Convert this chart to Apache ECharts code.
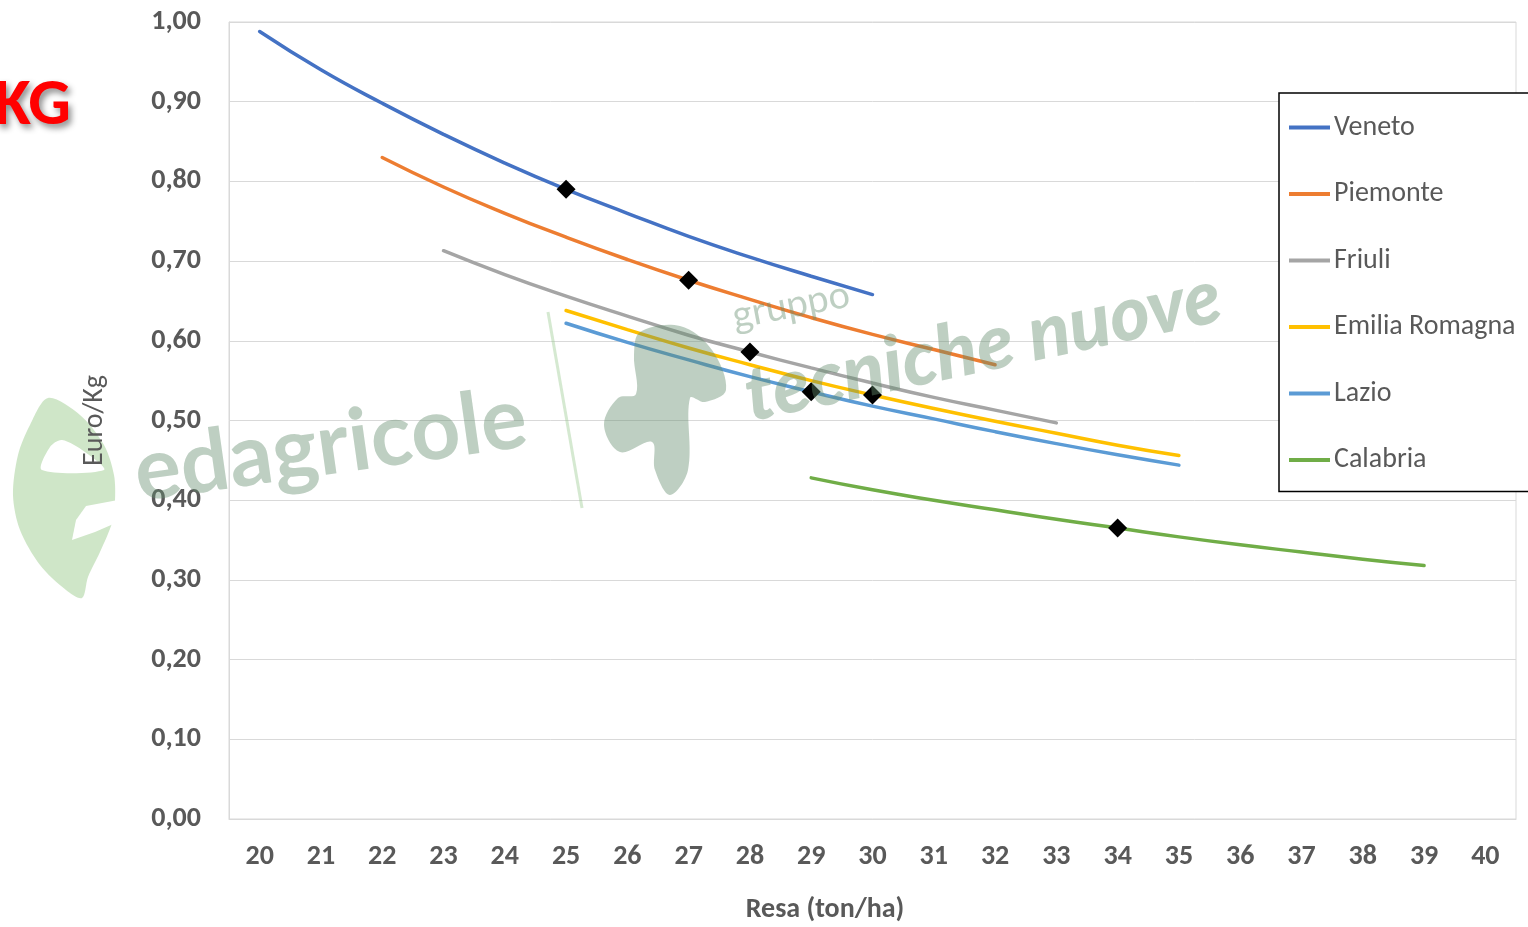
<!DOCTYPE html>
<html>
<head>
<meta charset="utf-8">
<script src="https://cdn.jsdelivr.net/npm/echarts@6/dist/echarts.min.js"></script>
<style>
  html, body { margin: 0; padding: 0; background: #fff; }
  #chart { width: 1528px; height: 927px; }
</style>
</head>
<body>
<div id="chart"></div>
<script>
// Resa (ton/ha) on the x axis
const yields = [20, 21, 22, 23, 24, 25, 26, 27, 28, 29, 30, 31, 32, 33, 34, 35, 36, 37, 38, 39, 40];

// Regions, their colours, first yield of each curve and the yield marked with a diamond
const regions = ['Veneto', 'Piemonte', 'Friuli', 'Emilia Romagna', 'Lazio', 'Calabria'];
const regionColors = ['#4472C4', '#ED7D31', '#A5A5A5', '#FFC000', '#5B9BD5', '#70AD47'];
const startYield = [20, 22, 23, 25, 25, 29];
const markedYield = [25, 27, 28, 30, 29, 34];

// Euro/Kg for each region, one value per ton/ha starting at startYield
const veneto   = [0.988, 0.940, 0.898, 0.859, 0.823, 0.790, 0.760, 0.731, 0.705, 0.681, 0.658];
const piemonte = [0.830, 0.793, 0.760, 0.730, 0.702, 0.676, 0.652, 0.629, 0.608, 0.589, 0.570];
const friuli   = [0.713, 0.683, 0.656, 0.631, 0.607, 0.586, 0.566, 0.547, 0.529, 0.513, 0.497];
const emilia   = [0.638, 0.614, 0.591, 0.570, 0.550, 0.532, 0.515, 0.499, 0.484, 0.469, 0.456];
const lazio    = [0.622, 0.598, 0.576, 0.555, 0.536, 0.518, 0.502, 0.486, 0.471, 0.457, 0.444];
const calabria = [0.428, 0.413, 0.400, 0.388, 0.376, 0.365, 0.354, 0.344, 0.335, 0.326, 0.318];
const regionValues = [veneto, piemonte, friuli, emilia, lazio, calabria];

const labelFont = 'Carlito, Lato, "Open Sans", sans-serif';
const grey = '#595959';
const markFill = 'rgba(100,140,110,0.42)';
const leafFill = 'rgba(140,195,125,0.42)';

function buildData(i) {
  return yields.map(function (y) {
    const k = y - startYield[i];
    if (k < 0 || k >= regionValues[i].length) return '-';
    const v = regionValues[i][k];
    if (y === markedYield[i]) {
      return { value: v, symbol: 'diamond', symbolSize: 19, itemStyle: { color: '#000' } };
    }
    return { value: v, symbol: 'none' };
  });
}

const series = regions.map(function (name, i) {
  return {
    name: name,
    type: 'line',
    smooth: true,
    showSymbol: true,
    symbol: 'none',
    connectNulls: false,
    color: regionColors[i],
    lineStyle: { width: 3.5, color: regionColors[i], cap: 'round' },
    data: buildData(i)
  };
});

const chart = echarts.init(document.getElementById('chart'));
chart.setOption({
  animation: false,
  backgroundColor: '#fff',
  grid: {
    left: 229, right: 12, top: 22, bottom: 108,
    show: true, borderColor: '#D9D9D9', borderWidth: 1
  },
  xAxis: {
    type: 'category',
    data: yields.map(String),
    boundaryGap: true,
    axisLine: { show: true, lineStyle: { color: '#D9D9D9', width: 1 } },
    axisTick: { show: false },
    splitLine: { show: false },
    axisLabel: {
      color: grey, fontFamily: labelFont, fontWeight: 'bold', fontSize: 28, margin: 24
    }
  },
  yAxis: {
    type: 'value',
    min: 0, max: 1, interval: 0.1,
    name: 'Euro/Kg',
    nameLocation: 'middle',
    nameRotate: 90,
    nameGap: 120,
    nameTextStyle: { color: grey, fontFamily: labelFont, fontSize: 28 },
    axisLine: { show: true, lineStyle: { color: '#D9D9D9', width: 1 } },
    axisTick: { show: false },
    splitLine: { show: true, lineStyle: { color: '#D9D9D9', width: 1 } },
    axisLabel: {
      color: grey, fontFamily: labelFont, fontWeight: 'bold', fontSize: 28, margin: 28,
      formatter: function (v) { return v.toFixed(2).replace('.', ','); }
    }
  },
  legend: {
    orient: 'vertical',
    left: 1279, top: 93,
    padding: [20.5, 30, 17.5, 10],
    borderColor: '#000', borderWidth: 1.5,
    backgroundColor: '#fff',
    itemWidth: 41, itemHeight: 4, itemGap: 38.5,
    icon: 'rect',
    textStyle: { color: grey, fontFamily: labelFont, fontSize: 28, lineHeight: 28, padding: [0, 0, 0, -1] },
    data: regions
  },
  graphic: [
    // leaf-shaped "e" emblem behind the y axis title
    {
      type: 'polygon', z: -5,
      shape: {
        smooth: 0.3,
        points: [[48, 398], [80, 415], [104, 445], [114, 475], [115, 502], [112, 523], [100, 552],
                 [88, 577], [82, 598], [66, 590], [40, 565], [20, 530], [13, 495], [18, 455], [30, 425]]
      },
      style: { fill: leafFill }
    },
    {
      type: 'polygon', z: -4,
      shape: { smooth: 0.3, points: [[42, 470], [50, 447], [62, 440], [85, 452], [104, 470]] },
      style: { fill: '#fff' }
    },
    {
      type: 'polygon', z: -4,
      shape: { points: [[118, 500], [86, 506], [76, 520], [72, 540], [95, 532], [118, 522]] },
      style: { fill: '#fff' }
    },
    {
      type: 'text', x: 825, y: 910, z: 10,
      style: { text: 'Resa (ton/ha)', fill: grey, font: 'bold 28px ' + labelFont, align: 'center', verticalAlign: 'middle' }
    },
    {
      type: 'text', x: 71, y: 107, z: 10,
      style: {
        text: 'KG', fill: '#FF0000', font: 'bold 67px ' + labelFont, align: 'right', verticalAlign: 'middle',
        textShadowColor: 'rgba(0,0,0,0.45)', textShadowBlur: 6, textShadowOffsetX: 3, textShadowOffsetY: 4
      }
    },
    // publisher marks laid over the plot
    {
      type: 'text', x: 129, y: 431, rotation: 0.14, z: 20,
      style: { text: 'edagricole', fill: markFill, font: 'bold 86px Lato, sans-serif', verticalAlign: 'top' }
    },
    {
      type: 'text', x: 729, y: 298, rotation: 0.19, z: 20,
      style: { text: 'gruppo', fill: markFill, font: '38px Lato, sans-serif', verticalAlign: 'top' }
    },
    {
      type: 'text', x: 738, y: 360, rotation: 0.21, z: 20,
      style: { text: 'tecniche nuove', fill: markFill, font: 'italic 900 76px Lato, sans-serif', verticalAlign: 'top' }
    },
    {
      type: 'polygon', z: 20,
      shape: {
        smooth: 0.35,
        points: [[640, 332], [680, 326], [712, 350], [726, 390], [705, 402], [690, 398],
                 [688, 470], [670, 495], [655, 470], [652, 442], [620, 452], [604, 425],
                 [618, 398], [636, 394], [634, 355]]
      },
      style: { fill: markFill }
    },
    {
      type: 'line', z: 20,
      shape: { x1: 548, y1: 312, x2: 582, y2: 508 },
      style: { stroke: 'rgba(150,200,140,0.4)', lineWidth: 3 }
    }
  ],
  series: series
});
</script>
</body>
</html>
